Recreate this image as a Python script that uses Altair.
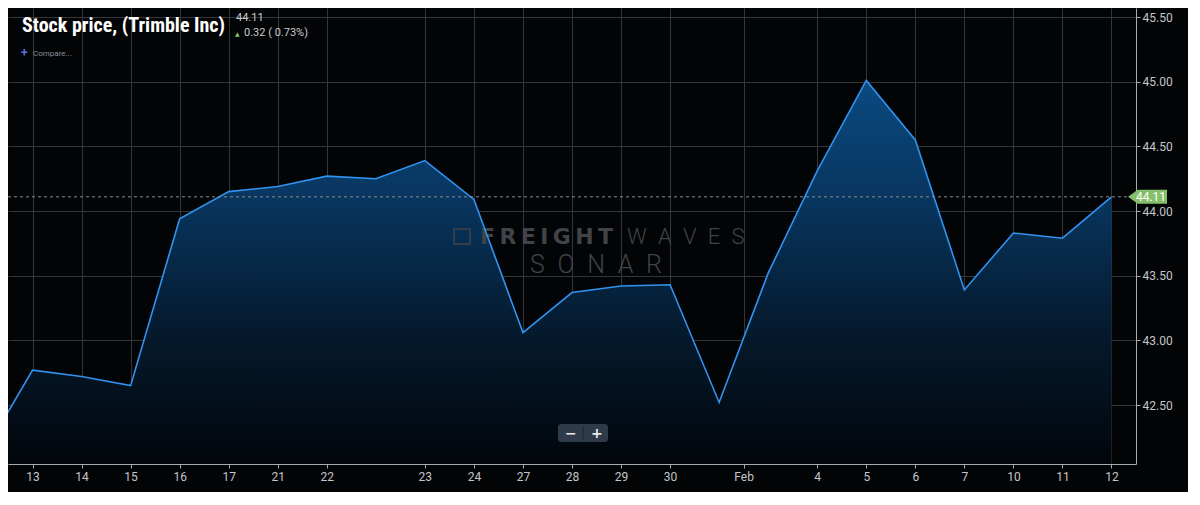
import altair as alt
import pandas as pd

# ---- data -------------------------------------------------------------
idx = [-1, 0, 1, 2, 3, 4, 5, 6, 7, 8, 9, 10, 11, 12, 13, 14, 15, 16, 17, 18, 19, 20, 21, 22]
price = [42.12, 42.77, 42.72, 42.65, 43.94, 44.15, 44.19, 44.27, 44.25, 44.39, 44.09,
         43.06, 43.37, 43.42, 43.43, 42.52, 43.52, 44.31, 45.01, 44.55, 43.39, 43.83,
         43.79, 44.11]
tick_pos = [0, 1, 2, 3, 4, 5, 6, 8, 9, 10, 11, 12, 13, 14.5, 16, 17, 18, 19, 20, 21, 22]
tick_lab = ["13", "14", "15", "16", "17", "21", "22", "23", "24", "27", "28", "29", "30",
            "Feb", "4", "5", "6", "7", "10", "11", "12"]
y_ticks = [42.5, 43.0, 43.5, 44.0, 44.5, 45.0, 45.5]
last_price = 44.11
change_txt = "0.32 ( 0.73%)"
title_txt = "Stock price, (Trimble Inc)"

X_DOM = [-0.5, 22.5]
Y_DOM = [42.044, 45.57]

df = pd.DataFrame({"i": idx, "p": price})

label_expr = "".join(f"datum.value=={v}?'{l}':" for v, l in zip(tick_pos, tick_lab)) + "''"

xsc = alt.Scale(domain=X_DOM, nice=False, zero=False)
ysc = alt.Scale(domain=Y_DOM, nice=False, zero=False)

x_enc = alt.X("i:Q", scale=xsc, axis=alt.Axis(
    values=tick_pos, labelExpr=label_expr, title=None, grid=True,
    gridColor="#33363b", gridWidth=1, domainColor="#a9abae", tickColor="#a9abae",
    tickSize=4, labelPadding=3, labelColor="#c3c6ca", labelFontSize=12,
    labelFont="Roboto", labelFlush=False))
y_enc = alt.Y("p:Q", scale=ysc, axis=alt.Axis(
    orient="right", values=y_ticks, format=".2f", title=None, grid=True,
    gridColor="#33363b", gridWidth=1, domainColor="#a9abae", tickColor="#a9abae",
    tickSize=4, labelPadding=2, labelColor="#c3c6ca", labelFontSize=12,
    labelFont="Roboto"))

base = alt.Chart(df)

area = base.mark_area(
    clip=True,
    color=alt.Gradient(gradient="linear",
                       stops=[alt.GradientStop(color="#02060b", offset=0),
                              alt.GradientStop(color="#051a2e", offset=0.35),
                              alt.GradientStop(color="#083660", offset=0.7),
                              alt.GradientStop(color="#0b4a80", offset=1)],
                       x1=1, x2=1, y1=1, y2=0),
).encode(x=x_enc, y=y_enc, y2=alt.datum(Y_DOM[0]))

line = base.mark_line(clip=True, color="#3193f0", strokeWidth=1.6).encode(
    x=alt.X("i:Q", scale=xsc), y=alt.Y("p:Q", scale=ysc))

last_df = pd.DataFrame({"p": [last_price], "lab": [f"{last_price:.2f}"]})
dash = alt.Chart(last_df).mark_rule(color="#8a8d91", strokeDash=[3, 3], strokeWidth=1).encode(
    y=alt.Y("p:Q", scale=ysc), x=alt.value(0), x2=alt.value(1128))

tag = alt.Chart(last_df).mark_point(
    shape="M-1,0 L-0.5,-0.36 L1,-0.36 L1,0.36 L-0.5,0.36 Z",
    size=1521, filled=True, fill="#86bf6a", opacity=1, strokeWidth=0, clip=False
).encode(y=alt.Y("p:Q", scale=ysc), x=alt.value(1139.5))
tag_txt = alt.Chart(last_df).mark_text(
    color="#ffffff", fontSize=12, font="Roboto", align="center", baseline="middle", dx=2
).encode(y=alt.Y("p:Q", scale=ysc), x=alt.value(1141), text="lab:N")

def txt(s, x, y, **kw):
    return alt.Chart(pd.DataFrame({"t": [s]})).mark_text(align="left", baseline="alphabetic", **kw).encode(
        x=alt.value(x), y=alt.value(y), text="t:N")

# watermark
wm_col = "#404348"
wm = [
    alt.Chart(pd.DataFrame({"a": [0]})).mark_rect(fill=None, stroke=wm_col, strokeWidth=1.5).encode(
        x=alt.value(446), x2=alt.value(462), y=alt.value(221), y2=alt.value(236)),
    txt("F\u2009R\u2009E\u2009I\u2009G\u2009H\u2009T", 472, 236, font="DejaVu Sans", fontWeight="bold",
        fontSize=22, color=wm_col),
    txt("W\u2002A\u2002V\u2002E\u2002S", 619, 236, font="Roboto", fontWeight=300, fontSize=22, color=wm_col),
    txt("S\u2002O\u2002N\u2002A\u2002R", 522, 265, font="Roboto", fontWeight=300, fontSize=25, color=wm_col),
]

# header texts
hdr = [
    txt(title_txt, 14, 24, font="Roboto Condensed, Liberation Sans Narrow, Roboto", fontWeight="bold",
        fontSize=20, color="#ffffff"),
    txt(f"{last_price:.2f}", 228, 13, font="Roboto", fontSize=11, color="#c9cbce"),
    txt("\u25b2", 227, 28, font="DejaVu Sans", fontSize=6, color="#7cc36a"),
    txt(change_txt, 236, 28, font="Roboto", fontSize=11, color="#c9cbce"),
    txt("+", 13, 49, font="Roboto", fontSize=12, fontWeight="bold", color="#5b6fd6"),
    txt("Compare...", 25, 48, font="Roboto", fontSize=8, color="#8a8f98"),
]

# zoom buttons
btn = [
    alt.Chart(pd.DataFrame({"a": [0]})).mark_rect(fill="#2f3b4a", cornerRadius=3).encode(
        x=alt.value(550), x2=alt.value(600), y=alt.value(416), y2=alt.value(434)),
    alt.Chart(pd.DataFrame({"a": [0]})).mark_rule(color="#1d2631").encode(
        x=alt.value(575), y=alt.value(418), y2=alt.value(432)),
    txt("\u2212", 557, 430, font="DejaVu Sans", fontSize=14, fontWeight="bold", color="#e8eaec"),
    txt("+", 583, 430, font="DejaVu Sans", fontSize=14, fontWeight="bold", color="#e8eaec"),
]

chart = alt.layer(area, *wm, line, dash, tag, tag_txt, *hdr, *btn).properties(
    width=1128, height=456,
    background="#030406",
    padding={"left": 0, "top": 0, "right": 52, "bottom": 28},
    autosize=alt.AutoSizeParams(type="none"),
).configure_view(stroke=None, fill="#030406")

chart.save("out.html", embed_options={"renderer": "svg", "actions": False})
